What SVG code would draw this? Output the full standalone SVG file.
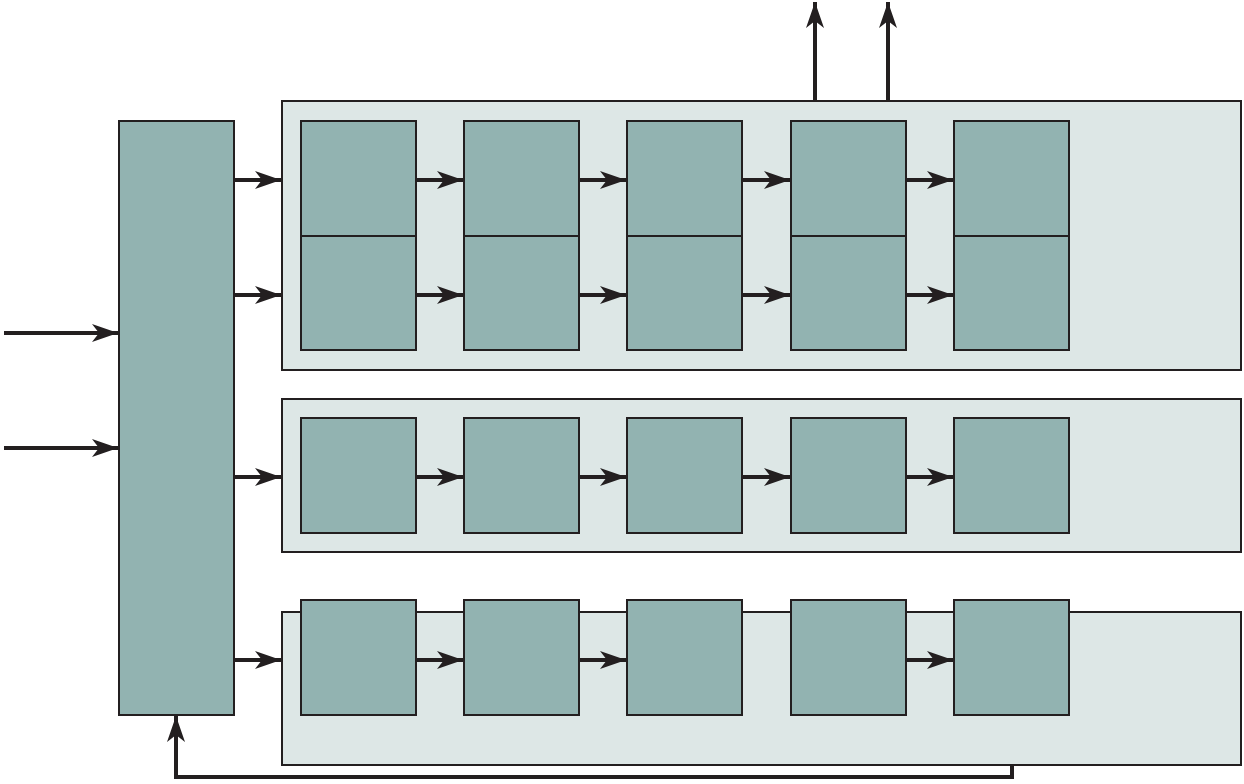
<svg xmlns="http://www.w3.org/2000/svg" width="1244" height="784" viewBox="0 0 1244 784">
<defs>
<style>
.panel{fill:#dde7e6;stroke:#231f20;stroke-width:2}
.box{fill:#92b3b1;stroke:#231f20;stroke-width:2}
.con{fill:none;stroke:#231f20;stroke-width:4}
</style>
<marker id="ah" markerUnits="userSpaceOnUse" viewBox="-26 -10 27 20" refX="0" refY="0" markerWidth="27" markerHeight="20" orient="auto">
<path d="M0,0 L-26,-9 L-19,0 L-26,9 Z" fill="#231f20"/>
</marker>
</defs>
<rect width="1244" height="784" fill="#fff"/>
<g id="panel1"><rect class="panel" x="282" y="101" width="959" height="269"/></g>
<g id="panel2"><rect class="panel" x="282" y="399" width="959" height="153"/></g>
<g id="panel3"><rect class="panel" x="282" y="612" width="959" height="153"/></g>
<g id="left"><rect class="box" x="119" y="121" width="115" height="594"/></g>
<g id="r1a"><rect class="box" x="301" y="121" width="115" height="115"/></g>
<g id="r1b"><rect class="box" x="464" y="121" width="115" height="115"/></g>
<g id="r1c"><rect class="box" x="627" y="121" width="115" height="115"/></g>
<g id="r1d"><rect class="box" x="791" y="121" width="115" height="115"/></g>
<g id="r1e"><rect class="box" x="954" y="121" width="115" height="115"/></g>
<g id="r2a"><rect class="box" x="301" y="236" width="115" height="114"/></g>
<g id="r2b"><rect class="box" x="464" y="236" width="115" height="114"/></g>
<g id="r2c"><rect class="box" x="627" y="236" width="115" height="114"/></g>
<g id="r2d"><rect class="box" x="791" y="236" width="115" height="114"/></g>
<g id="r2e"><rect class="box" x="954" y="236" width="115" height="114"/></g>
<g id="r3a"><rect class="box" x="301" y="418" width="115" height="115"/></g>
<g id="r3b"><rect class="box" x="464" y="418" width="115" height="115"/></g>
<g id="r3c"><rect class="box" x="627" y="418" width="115" height="115"/></g>
<g id="r3d"><rect class="box" x="791" y="418" width="115" height="115"/></g>
<g id="r3e"><rect class="box" x="954" y="418" width="115" height="115"/></g>
<g id="r4a"><rect class="box" x="301" y="600" width="115" height="115"/></g>
<g id="r4b"><rect class="box" x="464" y="600" width="115" height="115"/></g>
<g id="r4c"><rect class="box" x="627" y="600" width="115" height="115"/></g>
<g id="r4d"><rect class="box" x="791" y="600" width="115" height="115"/></g>
<g id="r4e"><rect class="box" x="954" y="600" width="115" height="115"/></g>
<g id="connectors" marker-end="url(#ah)">
<path class="con" d="M4,333 H118"/>
<path class="con" d="M4,448 H118"/>
<path class="con" d="M235,180 H281"/>
<path class="con" d="M235,295 H281"/>
<path class="con" d="M235,477 H281"/>
<path class="con" d="M235,660 H281"/>
<path class="con" d="M417,180 H463"/>
<path class="con" d="M580,180 H626"/>
<path class="con" d="M743,180 H790"/>
<path class="con" d="M907,180 H953"/>
<path class="con" d="M417,295 H463"/>
<path class="con" d="M580,295 H626"/>
<path class="con" d="M743,295 H790"/>
<path class="con" d="M907,295 H953"/>
<path class="con" d="M417,477 H463"/>
<path class="con" d="M580,477 H626"/>
<path class="con" d="M743,477 H790"/>
<path class="con" d="M907,477 H953"/>
<path class="con" d="M417,660 H463"/>
<path class="con" d="M580,660 H626"/>
<path class="con" d="M907,660 H953"/>
<path class="con" d="M815,100 V2"/>
<path class="con" d="M888,100 V2"/>
<path class="con" d="M1012,766 V777 H176 V716"/>
</g>
</svg>
